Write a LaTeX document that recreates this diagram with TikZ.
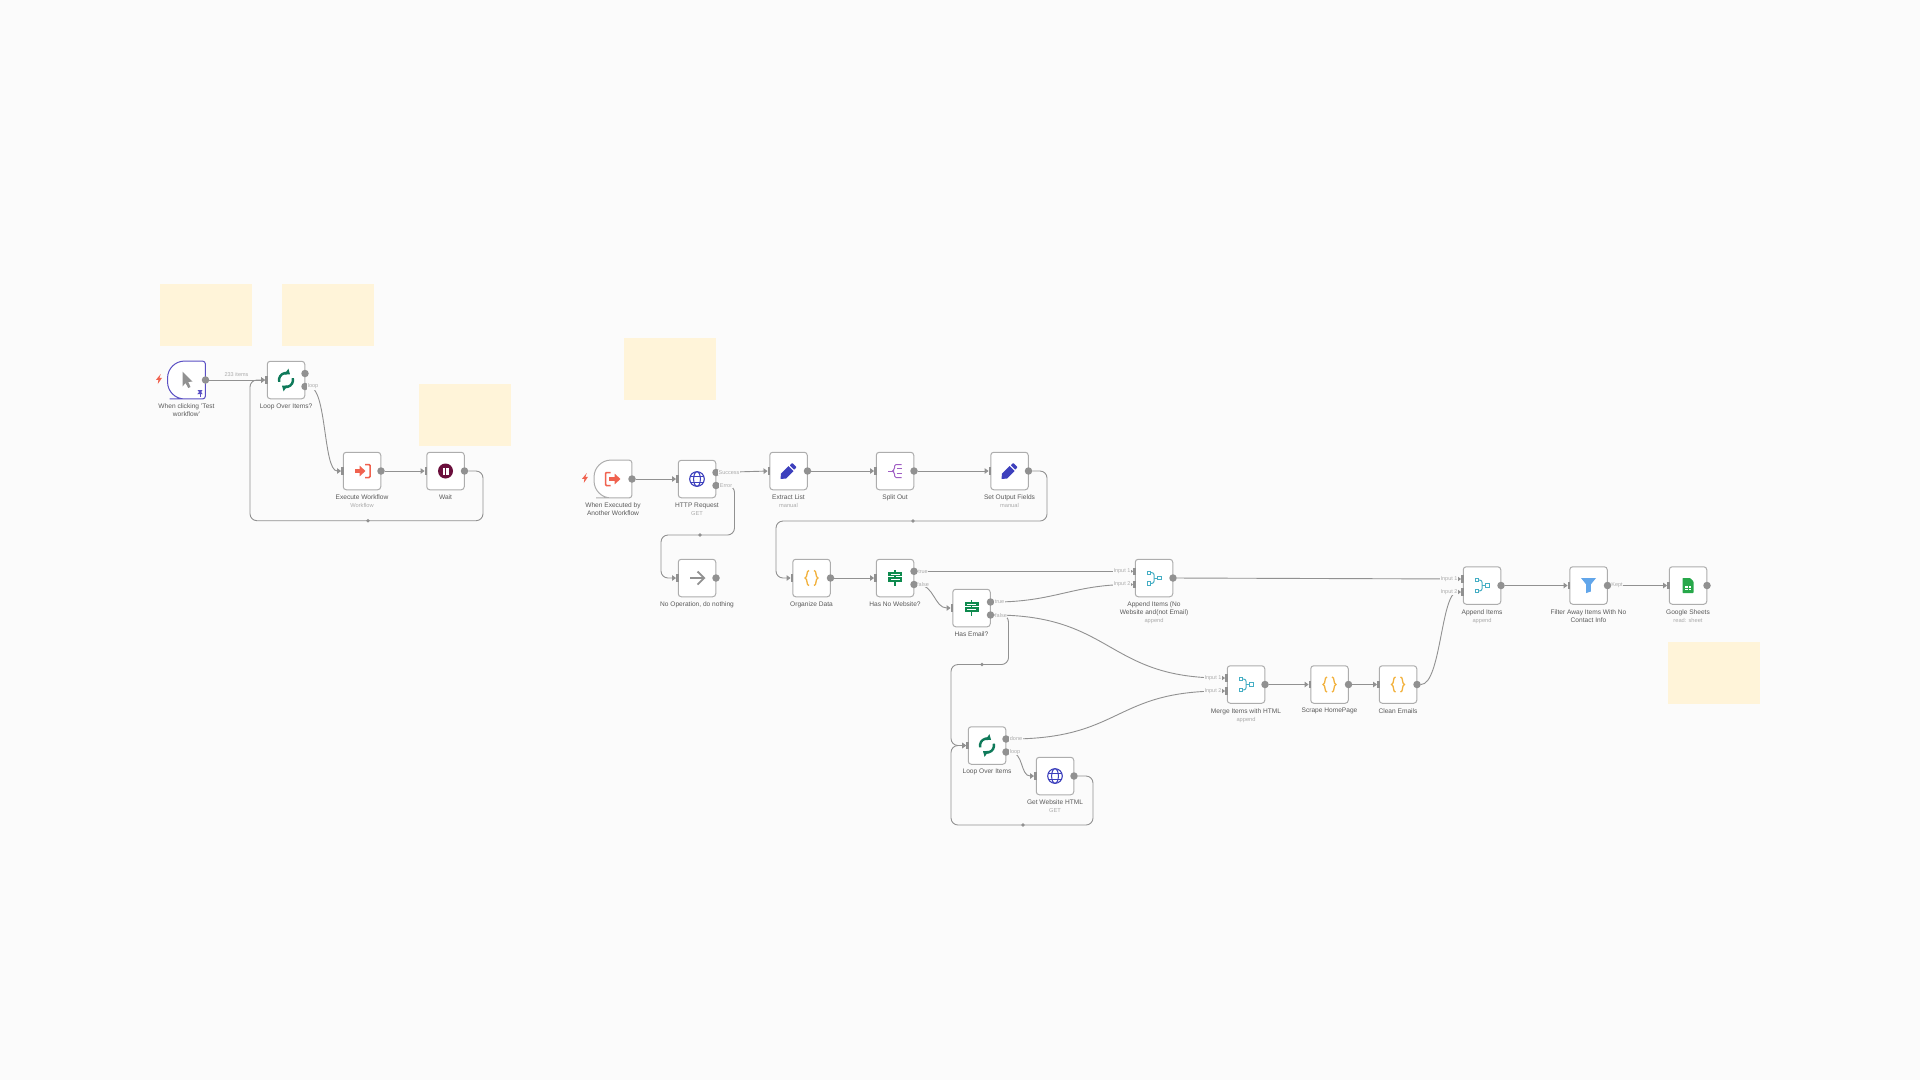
\documentclass[tikz,border=0pt]{standalone}
\usepackage{fontspec}
\setmainfont{Liberation Sans}
\usetikzlibrary{arrows.meta,positioning,shapes.geometric}

\definecolor{canvasgrey}{HTML}{FBFBFB}
\definecolor{notecream}{HTML}{FFF4D9}
\definecolor{wiregrey}{HTML}{919191}
\definecolor{boxgrey}{HTML}{ADADAD}
\definecolor{textgrey}{HTML}{5A5A5A}
\definecolor{subgrey}{HTML}{ABABAB}
\definecolor{pinblue}{HTML}{5A4FC4}
\definecolor{nred}{HTML}{F0624F}
\definecolor{ngreen}{HTML}{0F7A5A}
\definecolor{nmaroon}{HTML}{6B0F3C}
\definecolor{nblue}{HTML}{3D40BD}
\definecolor{npurple}{HTML}{A05EC4}
\definecolor{norange}{HTML}{F2B13C}
\definecolor{nsign}{HTML}{0E8A4E}
\definecolor{nteal}{HTML}{45AEC4}
\definecolor{nsky}{HTML}{62A6EA}
\definecolor{nsheet}{HTML}{27A84A}

\newcommand{\sublabel}[1]{{\fontsize{5.7}{8}\selectfont\color{subgrey}#1}}

\tikzset{
  box/.style={draw=boxgrey,fill=white,line width=1pt,rounded corners=3pt,minimum size=37.5pt,inner sep=0pt},
  hiddenbox/.style={minimum size=37.5pt,inner sep=0pt},
  note/.style={fill=notecream,minimum width=92pt,minimum height=62pt,inner sep=0pt},
  outdot/.style={circle,fill=wiregrey,minimum size=7.5pt,inner sep=0pt},
  inport/.style={fill=wiregrey,minimum width=2.5pt,minimum height=7.5pt,inner sep=0pt},
  midmark/.style={diamond,fill=wiregrey,minimum size=4pt,inner sep=0pt},
  caption/.style={text=textgrey,font=\fontsize{6.6}{8}\selectfont,align=center,inner sep=0pt},
  wirelabel/.style={text=subgrey,fill=canvasgrey,font=\fontsize{5.5}{6}\selectfont,inner sep=.6pt},
  wire/.style={draw=wiregrey,line width=.9pt,rounded corners=7pt,-{Triangle[length=4pt,width=5.5pt]}},
  iconbolt/.pic={\fill[nred] (1.8,-5) -- (-3,.8) -- (-.6,.8) -- (-1.2,5) -- (3,-1.2) -- (.4,-1.2) -- cycle;},
  iconpin/.pic={\fill[pinblue] (-2.5,-3) -- (2.5,-3) -- (1.5,-2) -- (1.5,0) -- (2.8,1.2) -- (-2.8,1.2) -- (-1.5,0) -- (-1.5,-2) -- cycle;
    \draw[pinblue,line width=.8pt] (0,1) -- (0,3.5);},
  iconcursor/.pic={\fill[wiregrey] (-4,-8.5) -- (-4,6.5) -- (-1,3) -- (1.8,8) -- (4,7) -- (1.8,2) -- (6,1.5) -- cycle;},
  iconloop/.pic={\draw[ngreen,line width=2.4pt,-{Triangle[length=4.5pt,width=7pt]}] (165:7) arc (165:305:7);
    \draw[ngreen,line width=2.4pt,-{Triangle[length=4.5pt,width=7pt]}] (345:7) arc (345:485:7);},
  iconrun/.pic={\draw[nred,line width=3.2pt,-{Triangle[length=6pt,width=10.5pt]}] (-7,0) -- (3.5,0);
    \draw[nred,line width=1.5pt,rounded corners=1pt] (3,-6.5) -- (8,-6.5) -- (8,6.5) -- (3,6.5);},
  iconexit/.pic={\draw[nred,line width=1.5pt,rounded corners=1pt] (-2.5,-6.5) -- (-7.5,-6.5) -- (-7.5,6.5) -- (-2.5,6.5);
    \draw[nred,line width=3.2pt,-{Triangle[length=6pt,width=10.5pt]}] (-4,0) -- (7.5,0);},
  iconpause/.pic={\fill[nmaroon] (0,0) circle (7.5);
    \fill[white] (-3,-3.5) rectangle (-.8,3.5);
    \fill[white] (.8,-3.5) rectangle (3,3.5);},
  iconglobe/.pic={\draw[nblue,line width=1.1pt] (0,0) circle (7.3);
    \draw[nblue,line width=1pt] (0,0) ellipse (3.4 and 7.3);
    \draw[nblue,line width=1pt] (-6.6,-3) -- (6.6,-3);
    \draw[nblue,line width=1pt] (-6.6,3) -- (6.6,3);},
  iconpencil/.pic={\fill[nblue] (-8,8) -- (-7.5,2.5) -- (0,-5) -- (5,0) -- (-2.5,7.5) -- cycle;
    \fill[nblue,rounded corners=.6pt] (1.2,-5.8) -- (3.8,-8) -- (8,-3.8) -- (5.8,-1.2) -- cycle;},
  iconsplit/.pic={\draw[npurple,line width=1pt] (-7,0) -- (-2.5,0);
    \draw[npurple,line width=1pt,rounded corners=1.5pt] (6.5,-6.5) -- (-.5,-6.5) -- (-.5,-1.5) -- (-2.5,0) -- (-.5,1.5) -- (-.5,6.5) -- (6.5,6.5);
    \draw[npurple,line width=1pt] (1.5,-2.2) -- (6.5,-2.2);
    \draw[npurple,line width=1pt] (1.5,2.2) -- (6.5,2.2);},
  iconarrow/.pic={\draw[wiregrey,line width=1.8pt] (-7,0) -- (7,0);
    \draw[wiregrey,line width=1.8pt] (.5,-6.5) -- (7.2,0) -- (.5,6.5);},
  iconbraces/.pic={\draw[norange,line width=1.3pt] (-2.5,-7.5) .. controls (-5.5,-7.5) and (-3.5,-.6) .. (-6.5,0) .. controls (-3.5,.6) and (-5.5,7.5) .. (-2.5,7.5);
    \draw[norange,line width=1.3pt] (2.5,-7.5) .. controls (5.5,-7.5) and (3.5,-.6) .. (6.5,0) .. controls (3.5,.6) and (5.5,7.5) .. (2.5,7.5);},
  iconsign/.pic={\fill[nsign] (-.9,-8) rectangle (.9,7.5);
    \fill[nsign] (-7,-6) rectangle (7,-2);
    \fill[nsign] (-7,-.8) rectangle (7,3.5);
    \fill[white] (-4.5,-4.3) rectangle (4.5,-3.7);
    \fill[white] (-4.5,1) rectangle (4.5,1.6);},
  iconmerge/.pic={\draw[nteal,line width=1pt] (-7,-7) rectangle (-3.6,-3.6);
    \draw[nteal,line width=1pt] (-7,3.6) rectangle (-3.6,7);
    \draw[nteal,line width=1pt] (3.6,-1.7) rectangle (7,1.7);
    \draw[nteal,line width=1pt,rounded corners=2pt] (-3.6,-5.3) -| (0,0) |- (-3.6,5.3);
    \draw[nteal,line width=1pt] (0,0) -- (3.6,0);},
  iconfilter/.pic={\fill[nsky] (-7.5,-7.5) -- (7.5,-7.5) -- (2.3,-1) -- (2.3,6) -- (-2.3,7.5) -- (-2.3,-1) -- cycle;},
  iconsheet/.pic={\fill[nsheet,rounded corners=.6pt] (-5.5,-7.5) -- (2,-7.5) -- (5.5,-4) -- (5.5,7.5) -- (-5.5,7.5) -- cycle;
    \fill[white] (-2.7,.3) rectangle (2.7,4.5);
    \fill[nsheet] (-.4,.3) rectangle (.4,4.5);
    \fill[nsheet] (-2.7,2) rectangle (2.7,2.8);},
}

\begin{document}
\begin{tikzpicture}[x=1pt,y=-1pt]

      \fill[canvasgrey] (0,0) rectangle (1920,1080);
      \useasboundingbox (0,0) rectangle (1920,1080);

      \begin{scope}[every node/.style={note}]
        \node (noteone)   at (206,315)  {};
        \node (notetwo)   at (327.5,315) {};
        \node (notethree) at (465,414.5) {};
        \node (notefour)  at (670,368.5) {};
        \node (notefive)  at (1714,673) {};
      \end{scope}

      \node[hiddenbox] (trigclick) at (186.5,380) {};
      \node[hiddenbox] (trigrun)   at (613,479)   {};
      \draw[fill=white,draw=pinblue,line width=1pt,rounded corners=17pt] (trigclick.north) -- (trigclick.north west) -- (trigclick.south west) -- (trigclick.south) [rounded corners=3pt] -- (trigclick.south east) -- (trigclick.north east) -- cycle;
      \draw[fill=white,draw=boxgrey,line width=1pt,rounded corners=17pt] (trigrun.north) -- (trigrun.north west) -- (trigrun.south west) -- (trigrun.south) [rounded corners=3pt] -- (trigrun.south east) -- (trigrun.north east) -- cycle;

      \begin{scope}[every node/.style={box}]
        \node (loopone)     at (286,380)    {};
        \node (runflow)     at (362,471)    {};
        \node (waitbox)     at (445.5,471)  {};
        \node (httpreq)     at (697,479)    {};
        \node (extractlist) at (788.5,471)  {};
        \node (splitout)    at (895,471)    {};
        \node (setfields)   at (1009.5,471) {};
        \node (noop)        at (697,578)    {};
        \node (organize)    at (811.5,578)  {};
        \node (nowebsite)   at (895,578)    {};
        \node (hasemail)    at (971.5,608)  {};
        \node (appendone)   at (1154,578)   {};
        \node (mergehtml)   at (1246,684.5) {};
        \node (scrape)      at (1329.5,684.5) {};
        \node (cleanmail)   at (1398,684.5) {};
        \node (appendtwo)   at (1482,585.5) {};
        \node (filteraway)  at (1588.5,585.5) {};
        \node (gsheets)     at (1688,585.5) {};
        \node (looptwo)     at (987,745.5)  {};
        \node (gethtml)     at (1055,776)   {};
      \end{scope}

      % icons
      \pic at (159,379) {iconbolt};
      \pic at (585,478) {iconbolt};
      \pic at (200,393) {iconpin};
      \pic at (trigclick) {iconcursor};
      \pic at (trigrun) {iconexit};
      \pic at (loopone) {iconloop};
      \pic at (looptwo) {iconloop};
      \pic at (runflow) {iconrun};
      \pic at (waitbox) {iconpause};
      \pic at (httpreq) {iconglobe};
      \pic at (gethtml) {iconglobe};
      \pic at (extractlist) {iconpencil};
      \pic at (setfields) {iconpencil};
      \pic at (splitout) {iconsplit};
      \pic at (noop) {iconarrow};
      \pic at (organize) {iconbraces};
      \pic at (scrape) {iconbraces};
      \pic at (cleanmail) {iconbraces};
      \pic at (nowebsite) {iconsign};
      \pic at (hasemail) {iconsign};
      \pic at (appendone) {iconmerge};
      \pic at (mergehtml) {iconmerge};
      \pic at (appendtwo) {iconmerge};
      \pic at (filteraway) {iconfilter};
      \pic at (gsheets) {iconsheet};

      \begin{scope}[every node/.style={caption}]
        \node[below=4.3pt of trigclick]   (trigclicktxt) {When clicking 'Test\\workflow'};
        \node[below=4.3pt of loopone]     (looponetxt) {Loop Over Items?};
        \node[below=4.3pt of runflow]     (runflowtxt) {Execute Workflow\\\sublabel{Workflow}};
        \node[below=4.3pt of waitbox]     (waitboxtxt) {Wait};
        \node[below=4.3pt of trigrun]     (trigruntxt) {When Executed by\\Another Workflow};
        \node[below=4.3pt of httpreq]     (httpreqtxt) {HTTP Request\\\sublabel{GET}};
        \node[below=4.3pt of extractlist] (extractlisttxt) {Extract List\\\sublabel{manual}};
        \node[below=4.3pt of splitout]    (splitouttxt) {Split Out};
        \node[below=4.3pt of setfields]   (setfieldstxt) {Set Output Fields\\\sublabel{manual}};
        \node[below=4.3pt of noop]        (nooptxt) {No Operation, do nothing};
        \node[below=4.3pt of organize]    (organizetxt) {Organize Data};
        \node[below=4.3pt of nowebsite]   (nowebsitetxt) {Has No Website?};
        \node[below=4.3pt of hasemail]    (hasemailtxt) {Has Email?};
        \node[below=4.3pt of appendone]   (appendonetxt) {Append Items (No\\Website and(not Email)\\\sublabel{append}};
        \node[below=4.3pt of mergehtml]   (mergehtmltxt) {Merge Items with HTML\\\sublabel{append}};
        \node[below=4.3pt of scrape]      (scrapetxt) {Scrape HomePage};
        \node[below=4.3pt of cleanmail]   (cleanmailtxt) {Clean Emails};
        \node[below=4.3pt of appendtwo]   (appendtwotxt) {Append Items\\\sublabel{append}};
        \node[below=4.3pt of filteraway]  (filterawaytxt) {Filter Away Items With No\\Contact Info};
        \node[below=4.3pt of gsheets]     (gsheetstxt) {Google Sheets\\\sublabel{read: sheet}};
        \node[below=4.3pt of looptwo]     (looptwotxt) {Loop Over Items};
        \node[below=4.3pt of gethtml]     (gethtmltxt) {Get Website HTML\\\sublabel{GET}};
      \end{scope}

      \begin{scope}[every node/.style={inport}]
        \node (looponein)   at (266.5,380) {};
        \node (runflowin)   at (342.5,471) {};
        \node (waitboxin)   at (426,471)   {};
        \node (httpreqin)   at (677.5,479) {};
        \node (extractin)   at (769,471)   {};
        \node (splitin)     at (875.5,471) {};
        \node (setin)       at (990,471)   {};
        \node (noopin)      at (677.5,578) {};
        \node (organizein)  at (792,578)   {};
        \node (websitein)   at (875.5,578) {};
        \node (emailin)     at (952,608)   {};
        \node (appendonea)  at (1134.5,571.3) {};
        \node (appendoneb)  at (1134.5,584.5) {};
        \node (mergea)      at (1226.5,678)   {};
        \node (mergeb)      at (1226.5,691)   {};
        \node (scrapein)    at (1310,684.5)   {};
        \node (cleanin)     at (1378.5,684.5) {};
        \node (appendtwoa)  at (1462.5,579)   {};
        \node (appendtwob)  at (1462.5,592)   {};
        \node (filterin)    at (1569,585.5)   {};
        \node (sheetsin)    at (1668.5,585.5) {};
        \node (looptwoin)   at (967.5,745.5)  {};
        \node (gethtmlin)   at (1035.5,776)   {};
      \end{scope}

      \begin{scope}[every node/.style={outdot}]
        \node (trigclickout) at (205.5,380) {};
        \node (looponea)     at (305,373.5) {};
        \node (looponeb)     at (305,386.5) {};
        \node (runflowout)   at (381,471)   {};
        \node (waitboxout)   at (464.5,471) {};
        \node (trigrunout)   at (632,479)   {};
        \node (httpreqa)     at (716,472.5) {};
        \node (httpreqb)     at (716,485.5) {};
        \node (extractout)   at (807.5,471) {};
        \node (splitout_o)   at (914,471)   {};
        \node (setout)       at (1028.5,471) {};
        \node (noopout)      at (716,578)   {};
        \node (organizeout)  at (830.5,578) {};
        \node (websitea)     at (914,571.3) {};
        \node (websiteb)     at (914,584.5) {};
        \node (emaila)       at (990.5,602) {};
        \node (emailb)       at (990.5,615) {};
        \node (appendoneout) at (1173,578)  {};
        \node (mergeout)     at (1265,684.5) {};
        \node (scrapeout)    at (1348.5,684.5) {};
        \node (cleanout)     at (1417,684.5) {};
        \node (appendtwoout) at (1501,585.5) {};
        \node (filterout)    at (1607.5,585.5) {};
        \node (sheetsout)    at (1707,585.5) {};
        \node (looptwoa)     at (1006,739)  {};
        \node (looptwob)     at (1006,752)  {};
        \node (gethtmlout)   at (1074,776)  {};
      \end{scope}

      \coordinate (waitdown)    at (483,520.7);
      \coordinate (waitleft)    at (250,380);
      \coordinate (errdown)     at (734.5,535);
      \coordinate (errleft)     at (661,578);
      \coordinate (setdown)     at (1047,521);
      \coordinate (setleft)     at (776,578);
      \coordinate (emaildown)   at (1008.5,664.5);
      \coordinate (emailleft)   at (951,745.5);
      \coordinate (htmldown)    at (1093,825);

      \begin{scope}[every edge/.style={draw=wiregrey,line width=.9pt,-{Triangle[length=4pt,width=5.5pt]}}]
        \path (trigclickout) edge (looponein);
        \path (runflowout)   edge (waitboxin);
        \path (trigrunout)   edge (httpreqin);
        \path (httpreqa)     edge (extractin);
        \path (extractout)   edge (splitin);
        \path (splitout_o)   edge (setin);
        \path (organizeout)  edge (websitein);
        \path (websitea)     edge (appendonea);
        \path (appendoneout) edge (appendtwoa);
        \path (mergeout)     edge (scrapein);
        \path (scrapeout)    edge (cleanin);
        \path (appendtwoout) edge (filterin);
        \path (filterout)    edge (sheetsin);

        \path (looponeb) edge[out=0,in=180,distance=18pt] (runflowin);
        \path (websiteb) edge[out=0,in=180,distance=16pt] (emailin);
        \path (emaila)   edge[out=0,in=180,distance=60pt] (appendoneb);
        \path (emailb)   edge[out=0,in=180,distance=118pt] (mergea);
        \path (looptwoa) edge[out=0,in=180,distance=112pt] (mergeb);
        \path (looptwob) edge[out=0,in=180,distance=14pt] (gethtmlin);
        \path (cleanout) edge[out=0,in=180,distance=20pt] (appendtwob);
      \end{scope}

      \draw[wire] (waitboxout) -| (waitdown) -| (waitleft) -- (looponein);
      \draw[wire] (httpreqb) -| (errdown) -| (errleft) -- (noopin);
      \draw[wire] (setout) -| (setdown) -| (setleft) -- (organizein);
      \draw[wire] (emailb) -| (emaildown) -| (emailleft) -- (looptwoin);
      \draw[wire] (gethtmlout) -| (htmldown) -| (emailleft) -- (looptwoin);

      \begin{scope}[every node/.style={midmark}]
        \node (waitmark)  at (368,520.7) {};
        \node (errmark)   at (700,535)   {};
        \node (setmark)   at (913,521)   {};
        \node (emailmark) at (982,664.5) {};
        \node (htmlmark)  at (1023,825)  {};
      \end{scope}

      \begin{scope}[every node/.style={wirelabel}]
        \node[fill=none] (itemslbl) at (236.5,375) {233 items};
        \node (loopalbl)    at (313,386.5)  {loop};
        \node (successlbl)  at (729,472.3)  {Success};
        \node (errorlbl)    at (726,485.5)  {Error};
        \node (truelbl)     at (923,571.3)  {true};
        \node (falselbl)    at (923,584.5)  {false};
        \node (emailtruelbl)  at (999.5,602) {true};
        \node (emailfalselbl) at (1001,615.5) {false};
        \node (donelbl)     at (1016,739)   {done};
        \node (loopblbl)    at (1015,752)   {loop};
        \node (keptlbl)     at (1617,585.5) {Kept};
        \node (inputa)      at (1122,571.3) {Input 1};
        \node (inputb)      at (1122,584.5) {Input 2};
        \node (inputc)      at (1213,678)   {Input 1};
        \node (inputd)      at (1213,691)   {Input 2};
        \node (inpute)      at (1449,579)   {Input 1};
        \node (inputf)      at (1449,592)   {Input 2};
      \end{scope}

    \end{tikzpicture}
\end{document}
